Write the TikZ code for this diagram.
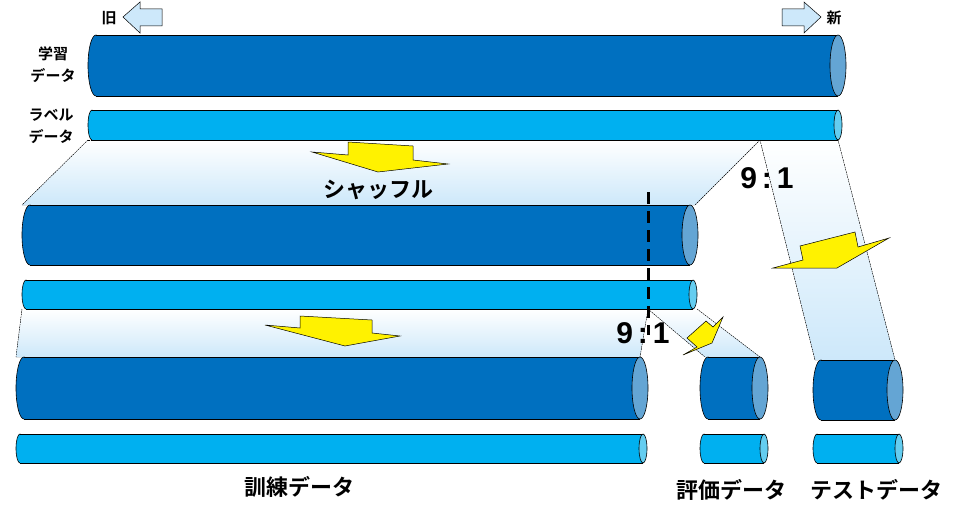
\documentclass[tikz,border=0pt]{standalone}
\usepackage{fontspec}
\newfontfamily\jp{Noto Sans CJK JP}[BoldFont={* Bold}]
\setmainfont{Liberation Sans}
\definecolor{dk}{RGB}{0,112,192}
\definecolor{lt}{RGB}{0,176,240}
\definecolor{dke}{RGB}{100,165,212}
\definecolor{lte}{RGB}{100,205,240}
\definecolor{bnd}{RGB}{205,232,250}
\definecolor{arw}{RGB}{205,232,250}
\tikzset{
 band/.style={top color=white,bottom color=bnd,draw=none},
 bedge/.style={densely dashed,line width=0.4pt,dash pattern=on 1.5pt off 1pt},
 yarrow/.style={fill=yellow,draw=black,line width=0.5pt},
 lbl/.style={font=\jp\bfseries,align=center,inner sep=0pt},
 ratio/.style={font=\bfseries\fontsize{30}{30}\selectfont,inner sep=0pt}
}
% x1 x2 ymid ry rx fill endfill
\newcommand\mycyl[7]{%
 \filldraw[fill=#6,draw=black,line width=0.6pt] (#1+#5,#3) ellipse[x radius=#5pt,y radius=#4pt];
 \fill[#6] (#1+#5,#3-#4) rectangle (#2,#3+#4);
 \draw[line width=0.6pt] (#1+#5,#3-#4) -- (#2,#3-#4) (#1+#5,#3+#4) -- (#2,#3+#4);
 \filldraw[fill=#7,draw=black,line width=0.6pt] (#2,#3) ellipse[x radius=#5pt,y radius=#4pt];}
\begin{document}
\begin{tikzpicture}[x=1pt,y=-1pt]
\useasboundingbox (0,0) rectangle (958,519);
% bands
\fill[band] (88,140) -- (760,140) -- (695,205) -- (22,205) -- cycle;
\fill[band] (760,140) -- (838,140) -- (895,360) -- (815,360) -- cycle;
\fill[band] (22,309) -- (648,309) -- (640,357) -- (16,357) -- cycle;
\fill[band] (648,309) -- (697,309) -- (760,357) -- (705,357) -- cycle;
\draw[bedge] (88,140) -- (22,205) (760,140) -- (695,205) (760,140) -- (815,360) (838,140) -- (895,360);
\draw[bedge] (88,140) -- (760,140);
\draw[bedge] (22,309) -- (16,357) (648,309) -- (640,357) (648,309) -- (705,357) (697,309) -- (760,357);
% cylinders
\mycyl{88}{838}{65.5}{30.5}{8}{dk}{dke}
\mycyl{88}{838}{125}{15}{4}{lt}{lte}
\mycyl{22}{690}{235}{30}{8}{dk}{dke}
\mycyl{22}{693}{294.5}{14.5}{4}{lt}{lte}
\mycyl{16}{640}{388}{31}{8}{dk}{dke}
\mycyl{16}{643}{448.5}{14.5}{4}{lt}{lte}
\mycyl{700}{760}{388}{31}{8}{dk}{dke}
\mycyl{700}{764}{448.5}{14.5}{4}{lt}{lte}
\mycyl{813}{895}{390}{30}{8}{dk}{dke}
\mycyl{813}{899}{448.5}{14.5}{4}{lt}{lte}
% split line
\draw[line width=3pt,dash pattern=on 12pt off 7pt] (648,192) -- (648,335);
% yellow arrows
\filldraw[yarrow] (348,142) -- (413,146) -- (413,160) -- (448,164) -- (378,172) -- (312,152) -- (348,155) -- cycle;
\filldraw[yarrow] (800,246) -- (855,232) -- (858,247) -- (889,238) -- (837,268) -- (773,268) -- (803,260) -- cycle;
\filldraw[yarrow] (687,338) -- (706,321) -- (713,327) -- (723,317) -- (712,343) -- (683,355) -- (697,347) -- cycle;
\filldraw[yarrow] (300,316) -- (372,320) -- (372,333) -- (400,336) -- (345,346) -- (265,325) -- (300,328) -- cycle;
% old/new arrows
\filldraw[fill=arw,draw=black,line width=0.5pt] (162,9) -- (140,9) -- (140,2) -- (123,17) -- (140,33) -- (140,26) -- (162,26) -- cycle;
\filldraw[fill=arw,draw=black,line width=0.5pt] (782,9) -- (804,9) -- (804,2) -- (821,17) -- (804,33) -- (804,26) -- (782,26) -- cycle;
% texts
\node[lbl,font=\jp\bfseries\fontsize{15}{15}\selectfont] (old) at (109,18) {旧};
\node[lbl,font=\jp\bfseries\fontsize{15}{15}\selectfont] (new) at (834,18) {新};
\node[lbl,font=\jp\bfseries\fontsize{15}{22}\selectfont] (l1) at (53,65) {学習\\データ};
\node[lbl,font=\jp\bfseries\fontsize{15}{22}\selectfont] (l2) at (51,126) {ラベル\\データ};
\node[lbl,font=\jp\bfseries\fontsize{22}{22}\selectfont] (shuf) at (378,190) {シャッフル};
\node[ratio] (r1) at (767,178) {9\,:\,1};
\node[ratio] (r2) at (643,333) {9\,:\,1};
\node[lbl,font=\jp\bfseries\fontsize{22}{22}\selectfont] (tr) at (299,487) {訓練データ};
\node[lbl,font=\jp\bfseries\fontsize{22}{22}\selectfont] (ev) at (731,490) {評価データ};
\node[lbl,font=\jp\bfseries\fontsize{22}{22}\selectfont] (te) at (876,490) {テストデータ};
\end{tikzpicture}
\end{document}
